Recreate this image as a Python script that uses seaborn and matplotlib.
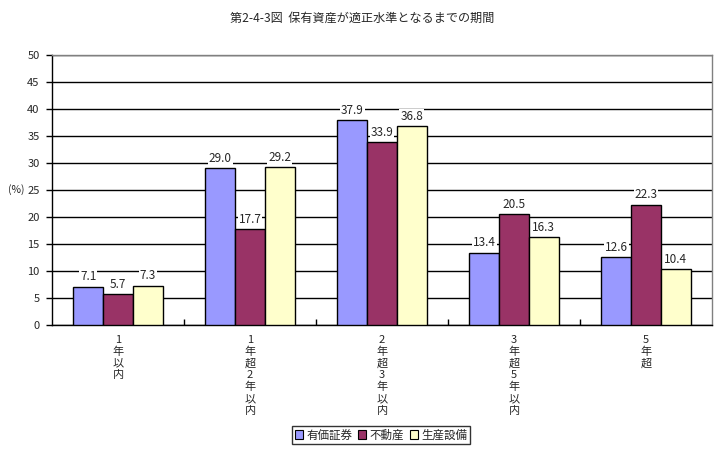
import matplotlib
matplotlib.use("Agg")
import matplotlib.pyplot as plt
import seaborn as sns
import pandas as pd
import numpy as np
from matplotlib.patches import Patch

categories = ["1\n年\n以\n内", "1\n年\n超\n2\n年\n以\n内", "2\n年\n超\n3\n年\n以\n内", "3\n年\n超\n5\n年\n以\n内", "5\n年\n超"]
series_names = ["有価証券", "不動産", "生産設備"]
yuka = [7.1, 29.0, 37.9, 13.4, 12.6]
fudosan = [5.7, 17.7, 33.9, 20.5, 22.3]
seisan = [7.3, 29.2, 36.8, 16.3, 10.4]
colors = ["#9999FF", "#993366", "#FFFFCC"]
title = "第2-4-3図  保有資産が適正水準となるまでの期間"

sns.set_theme(style="white")
plt.rcParams['font.family'] = ['Noto Sans CJK JP', 'DejaVu Sans']

rows = []
for name, vals in zip(series_names, [yuka, fudosan, seisan]):
    for c, v in zip(categories, vals):
        rows.append({"cat": c, "series": name, "value": v})
df = pd.DataFrame(rows)

fig = plt.figure(figsize=(7.24, 4.51), dpi=100)
ax = fig.add_axes([52/724, 1-325/451, (712-52)/724, (325-55)/451])

sns.barplot(data=df, x="cat", y="value", hue="series", order=categories,
            hue_order=series_names, palette=colors, width=0.675, gap=0,
            saturation=1, edgecolor="black", linewidth=1.0, ax=ax,
            legend=False, zorder=3)

ax.set_ylim(0, 50)
ax.set_xlim(-0.5, len(categories) - 0.5)
ax.set_yticks(np.arange(0, 51, 5))
ax.yaxis.grid(True, color="black", linewidth=1.0, zorder=0)
ax.set_axisbelow(True)
ax.set_xlabel("")
ax.set_ylabel("")

for s in ["top", "right"]:
    ax.spines[s].set_color("#808080")
    ax.spines[s].set_linewidth(1.0)
for s in ["left", "bottom"]:
    ax.spines[s].set_color("black")
    ax.spines[s].set_linewidth(1.0)

ax.tick_params(axis="y", direction="out", length=4, width=1, color="black",
               labelsize=8, pad=5, left=True)
ax.tick_params(axis="x", which="major", length=0, labelsize=8, pad=7)
ax.set_xticks(range(len(categories)))
ax.set_xticklabels(categories, linespacing=1.2, va="top")
ax.set_xticks(np.arange(0.5, len(categories) - 0.5, 1), minor=True)
ax.tick_params(axis="x", which="minor", direction="in", length=4, width=1,
               color="black", bottom=True)

for container in ax.containers:
    for bar in container:
        h = bar.get_height()
        ax.text(bar.get_x() + bar.get_width() / 2, h + 0.6, f"{h:.1f}",
                ha="center", va="bottom", fontsize=8.5, zorder=5,
                bbox=dict(facecolor="white", edgecolor="none", pad=0.6))

fig.text(8/724, 1-190/451, "(%)", fontsize=7.5, ha="left", va="center")
fig.text(0.5, 1-18/451, title, fontsize=8.7, ha="center", va="center")

handles = [Patch(facecolor=c, edgecolor="black", linewidth=0.8) for c in colors]
leg = fig.legend(handles, series_names, loc="center", bbox_to_anchor=(381/724, 1-435/451),
                 ncol=3, fontsize=8.3, frameon=True, fancybox=False, edgecolor="black",
                 handlelength=0.7, handleheight=0.7, handletextpad=0.3,
                 columnspacing=0.5, borderpad=0.2, borderaxespad=0)
leg.get_frame().set_linewidth(1.0)

fig.savefig("out.png", dpi=100, facecolor="white")
